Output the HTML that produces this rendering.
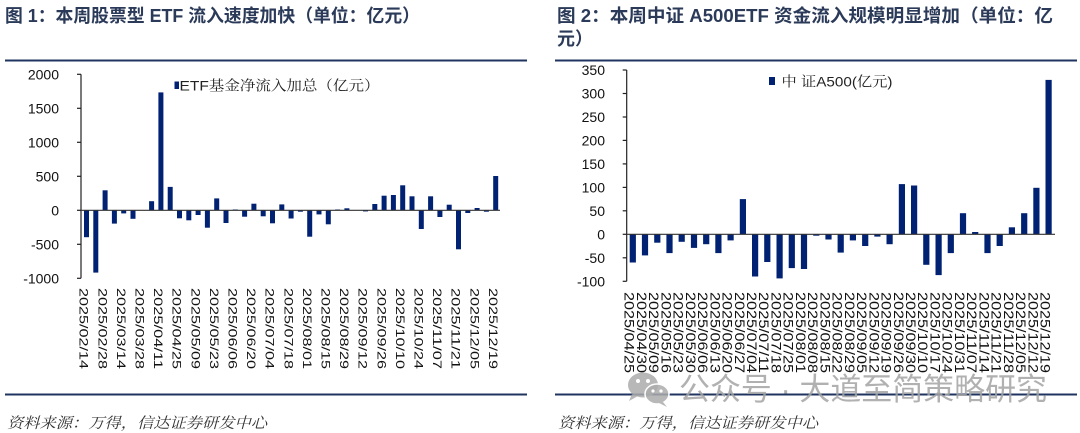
<!DOCTYPE html>
<html><head><meta charset="utf-8">
<style>
html,body{margin:0;padding:0;background:#fff;}
svg{display:block;}
.t{font-family:"Liberation Sans","Noto Sans CJK SC",sans-serif;font-weight:bold;fill:#2a3a58;font-size:18px;}
.tick{font-family:"Liberation Sans",sans-serif;font-size:14px;fill:#111;}
.xl{font-family:"Liberation Sans",sans-serif;fill:#111;}
.lg{font-family:"Liberation Sans","Noto Serif CJK SC",serif;font-size:14px;fill:#222;}
.src{font-family:"Liberation Serif","Noto Serif CJK SC",serif;font-size:15px;font-style:italic;fill:#333;}
.wm{font-family:"Liberation Sans","Noto Sans CJK SC",sans-serif;font-size:31px;fill:#a3a3a3;fill-opacity:0.85;}
</style></head>
<body>
<svg width="1080" height="433" viewBox="0 0 1080 433" xmlns="http://www.w3.org/2000/svg">
<rect width="1080" height="433" fill="#fff"/>

<!-- Titles -->
<text class="t" x="5" y="22" textLength="415" lengthAdjust="spacingAndGlyphs">图 1：本周股票型 ETF 流入速度加快（单位：亿元）</text>
<text class="t" x="557" y="22" textLength="496" lengthAdjust="spacingAndGlyphs">图 2：本周中证 A500ETF 资金流入规模明显增加（单位：亿</text>
<text class="t" x="557" y="45">元）</text>

<!-- Rules -->
<rect x="5" y="59.5" width="522" height="2" fill="#1f3560"/>
<rect x="555" y="59.5" width="522" height="2" fill="#1f3560"/>
<rect x="5" y="393.5" width="522" height="2" fill="#1f3560"/>
<rect x="555" y="393.5" width="522" height="2" fill="#1f3560"/>

<!-- ================= LEFT CHART ================= -->
<g class="tick" text-anchor="end">
<text x="59" y="79.3">2000</text>
<text x="59" y="113.3">1500</text>
<text x="59" y="147.3">1000</text>
<text x="59" y="181.3">500</text>
<text x="59" y="215.3">0</text>
<text x="59" y="249.3">-500</text>
<text x="59" y="283.3">-1000</text>
</g>
<g stroke="#222" stroke-width="1.2">
<line x1="81" y1="74.3" x2="81" y2="278.3"/>
<line x1="77" y1="74.3" x2="81" y2="74.3"/>
<line x1="77" y1="108.3" x2="81" y2="108.3"/>
<line x1="77" y1="142.3" x2="81" y2="142.3"/>
<line x1="77" y1="176.3" x2="81" y2="176.3"/>
<line x1="77" y1="210.3" x2="81" y2="210.3"/>
<line x1="77" y1="244.3" x2="81" y2="244.3"/>
<line x1="77" y1="278.3" x2="81" y2="278.3"/>
</g>
<g fill="#012272">
<rect x="84.0" y="210" width="5" height="27.2"/>
<rect x="93.3" y="210" width="5" height="62.6"/>
<rect x="102.6" y="190.3" width="5" height="19.7"/>
<rect x="111.9" y="210" width="5" height="13.6"/>
<rect x="121.2" y="210" width="5" height="3.4"/>
<rect x="130.5" y="210" width="5" height="8.8"/>
<rect x="149.1" y="201.2" width="5" height="8.8"/>
<rect x="158.4" y="92.4" width="5" height="117.6"/>
<rect x="167.7" y="186.9" width="5" height="23.1"/>
<rect x="177.0" y="210" width="5" height="8.3"/>
<rect x="186.3" y="210" width="5" height="10.3"/>
<rect x="195.6" y="210" width="5" height="5.0"/>
<rect x="204.9" y="210" width="5" height="17.7"/>
<rect x="214.2" y="198.4" width="5" height="11.6"/>
<rect x="223.5" y="210" width="5" height="13.0"/>
<rect x="232.8" y="209.5" width="5" height="0.5"/>
<rect x="242.1" y="210" width="5" height="6.7"/>
<rect x="251.4" y="203.7" width="5" height="6.3"/>
<rect x="260.7" y="210" width="5" height="6.3"/>
<rect x="270.0" y="210" width="5" height="13.3"/>
<rect x="279.3" y="204.4" width="5" height="5.6"/>
<rect x="288.6" y="210" width="5" height="8.5"/>
<rect x="297.9" y="210" width="5" height="1.7"/>
<rect x="307.2" y="210" width="5" height="26.7"/>
<rect x="316.5" y="210" width="5" height="4.4"/>
<rect x="325.8" y="210" width="5" height="14.3"/>
<rect x="335.1" y="209.5" width="5" height="0.5"/>
<rect x="344.4" y="208.3" width="5" height="1.7"/>
<rect x="363.0" y="210" width="5" height="1.4"/>
<rect x="372.3" y="204.0" width="5" height="6.0"/>
<rect x="381.6" y="195.7" width="5" height="14.3"/>
<rect x="390.9" y="195.0" width="5" height="15.0"/>
<rect x="400.2" y="185.3" width="5" height="24.7"/>
<rect x="409.5" y="196.3" width="5" height="13.7"/>
<rect x="418.8" y="210" width="5" height="19.0"/>
<rect x="428.1" y="196.3" width="5" height="13.7"/>
<rect x="437.4" y="210" width="5" height="7.0"/>
<rect x="446.7" y="204.7" width="5" height="5.3"/>
<rect x="456.0" y="210" width="5" height="39.3"/>
<rect x="465.3" y="210" width="5" height="3.0"/>
<rect x="474.6" y="208.0" width="5" height="2.0"/>
<rect x="483.9" y="210" width="5" height="1.7"/>
<rect x="493.2" y="176.0" width="5" height="34.0"/>
</g>
<line x1="81" y1="210.3" x2="500" y2="210.3" stroke="#333" stroke-width="1.2"/>
<!-- left legend -->
<rect x="174.5" y="81.5" width="4.5" height="7.5" fill="#012272"/>
<text class="lg" x="179.5" y="90.5" textLength="200" lengthAdjust="spacingAndGlyphs">ETF基金净流入加总（亿元）</text>
<!-- left x labels -->
<g class="xl" font-size="12">
<text transform="translate(84.0,288) rotate(90)" dy="0.36em" textLength="81" lengthAdjust="spacingAndGlyphs">2025/02/14</text>
<text transform="translate(102.6,288) rotate(90)" dy="0.36em" textLength="81" lengthAdjust="spacingAndGlyphs">2025/02/28</text>
<text transform="translate(121.2,288) rotate(90)" dy="0.36em" textLength="81" lengthAdjust="spacingAndGlyphs">2025/03/14</text>
<text transform="translate(139.8,288) rotate(90)" dy="0.36em" textLength="81" lengthAdjust="spacingAndGlyphs">2025/03/28</text>
<text transform="translate(158.4,288) rotate(90)" dy="0.36em" textLength="81" lengthAdjust="spacingAndGlyphs">2025/04/11</text>
<text transform="translate(177.0,288) rotate(90)" dy="0.36em" textLength="81" lengthAdjust="spacingAndGlyphs">2025/04/25</text>
<text transform="translate(195.6,288) rotate(90)" dy="0.36em" textLength="81" lengthAdjust="spacingAndGlyphs">2025/05/09</text>
<text transform="translate(214.2,288) rotate(90)" dy="0.36em" textLength="81" lengthAdjust="spacingAndGlyphs">2025/05/23</text>
<text transform="translate(232.8,288) rotate(90)" dy="0.36em" textLength="81" lengthAdjust="spacingAndGlyphs">2025/06/06</text>
<text transform="translate(251.4,288) rotate(90)" dy="0.36em" textLength="81" lengthAdjust="spacingAndGlyphs">2025/06/20</text>
<text transform="translate(270.0,288) rotate(90)" dy="0.36em" textLength="81" lengthAdjust="spacingAndGlyphs">2025/07/04</text>
<text transform="translate(288.6,288) rotate(90)" dy="0.36em" textLength="81" lengthAdjust="spacingAndGlyphs">2025/07/18</text>
<text transform="translate(307.2,288) rotate(90)" dy="0.36em" textLength="81" lengthAdjust="spacingAndGlyphs">2025/08/01</text>
<text transform="translate(325.8,288) rotate(90)" dy="0.36em" textLength="81" lengthAdjust="spacingAndGlyphs">2025/08/15</text>
<text transform="translate(344.4,288) rotate(90)" dy="0.36em" textLength="81" lengthAdjust="spacingAndGlyphs">2025/08/29</text>
<text transform="translate(363.0,288) rotate(90)" dy="0.36em" textLength="81" lengthAdjust="spacingAndGlyphs">2025/09/12</text>
<text transform="translate(381.6,288) rotate(90)" dy="0.36em" textLength="81" lengthAdjust="spacingAndGlyphs">2025/09/26</text>
<text transform="translate(400.2,288) rotate(90)" dy="0.36em" textLength="81" lengthAdjust="spacingAndGlyphs">2025/10/10</text>
<text transform="translate(418.8,288) rotate(90)" dy="0.36em" textLength="81" lengthAdjust="spacingAndGlyphs">2025/10/24</text>
<text transform="translate(437.4,288) rotate(90)" dy="0.36em" textLength="81" lengthAdjust="spacingAndGlyphs">2025/11/07</text>
<text transform="translate(456.0,288) rotate(90)" dy="0.36em" textLength="81" lengthAdjust="spacingAndGlyphs">2025/11/21</text>
<text transform="translate(474.6,288) rotate(90)" dy="0.36em" textLength="81" lengthAdjust="spacingAndGlyphs">2025/12/05</text>
<text transform="translate(493.2,288) rotate(90)" dy="0.36em" textLength="81" lengthAdjust="spacingAndGlyphs">2025/12/19</text>
</g>

<!-- ================= RIGHT CHART ================= -->
<g class="tick" text-anchor="end">
<text x="605" y="75">350</text>
<text x="605" y="98.5">300</text>
<text x="605" y="122">250</text>
<text x="605" y="145.4">200</text>
<text x="605" y="168.9">150</text>
<text x="605" y="192.4">100</text>
<text x="605" y="215.8">50</text>
<text x="605" y="239.3">0</text>
<text x="605" y="262.8">-50</text>
<text x="605" y="286.3">-100</text>
</g>
<g stroke="#222" stroke-width="1.2">
<line x1="626.7" y1="70" x2="626.7" y2="281.3"/>
<line x1="622.7" y1="70" x2="626.7" y2="70"/>
<line x1="622.7" y1="93.5" x2="626.7" y2="93.5"/>
<line x1="622.7" y1="117" x2="626.7" y2="117"/>
<line x1="622.7" y1="140.4" x2="626.7" y2="140.4"/>
<line x1="622.7" y1="163.9" x2="626.7" y2="163.9"/>
<line x1="622.7" y1="187.4" x2="626.7" y2="187.4"/>
<line x1="622.7" y1="210.8" x2="626.7" y2="210.8"/>
<line x1="622.7" y1="234.3" x2="626.7" y2="234.3"/>
<line x1="622.7" y1="257.8" x2="626.7" y2="257.8"/>
<line x1="622.7" y1="281.3" x2="626.7" y2="281.3"/>
</g>
<g fill="#012272">
<rect x="629.7" y="234.3" width="6.2" height="28.2"/>
<rect x="641.9" y="234.3" width="6.2" height="21.1"/>
<rect x="654.2" y="234.3" width="6.2" height="8.4"/>
<rect x="666.4" y="234.3" width="6.2" height="18.8"/>
<rect x="678.6" y="234.3" width="6.2" height="7.5"/>
<rect x="690.9" y="234.3" width="6.2" height="13.6"/>
<rect x="703.1" y="234.3" width="6.2" height="9.9"/>
<rect x="715.3" y="234.3" width="6.2" height="18.8"/>
<rect x="727.5" y="234.3" width="6.2" height="6.1"/>
<rect x="739.8" y="199.1" width="6.2" height="35.2"/>
<rect x="752.0" y="234.3" width="6.2" height="42.2"/>
<rect x="764.2" y="234.3" width="6.2" height="27.7"/>
<rect x="776.5" y="234.3" width="6.2" height="44.1"/>
<rect x="788.7" y="234.3" width="6.2" height="33.8"/>
<rect x="800.9" y="234.3" width="6.2" height="34.7"/>
<rect x="813.2" y="234.3" width="6.2" height="1.4"/>
<rect x="825.4" y="234.3" width="6.2" height="5.2"/>
<rect x="837.6" y="234.3" width="6.2" height="18.3"/>
<rect x="849.8" y="234.3" width="6.2" height="6.1"/>
<rect x="862.1" y="234.3" width="6.2" height="11.7"/>
<rect x="874.3" y="234.3" width="6.2" height="2.3"/>
<rect x="886.5" y="234.3" width="6.2" height="9.9"/>
<rect x="898.8" y="184.1" width="6.2" height="50.2"/>
<rect x="911.0" y="185.5" width="6.2" height="48.8"/>
<rect x="923.2" y="234.3" width="6.2" height="30.5"/>
<rect x="935.5" y="234.3" width="6.2" height="40.8"/>
<rect x="947.7" y="234.3" width="6.2" height="18.8"/>
<rect x="959.9" y="213.2" width="6.2" height="21.1"/>
<rect x="972.1" y="232.0" width="6.2" height="2.3"/>
<rect x="984.4" y="234.3" width="6.2" height="18.8"/>
<rect x="996.6" y="234.3" width="6.2" height="11.7"/>
<rect x="1008.8" y="227.3" width="6.2" height="7.0"/>
<rect x="1021.1" y="213.2" width="6.2" height="21.1"/>
<rect x="1033.3" y="187.8" width="6.2" height="46.5"/>
<rect x="1045.5" y="79.9" width="6.2" height="154.4"/>
</g>
<line x1="626.7" y1="234.3" x2="1055" y2="234.3" stroke="#333" stroke-width="1.2"/>
<!-- right legend -->
<rect x="769" y="77" width="6" height="8" fill="#012272"/>
<text class="lg" x="781.5" y="86.5" textLength="111" lengthAdjust="spacingAndGlyphs">中 证A500(亿元)</text>
<!-- right x labels -->
<g class="xl" font-size="14">
<text transform="translate(629.7,292) rotate(90)" dy="0.36em" textLength="81" lengthAdjust="spacingAndGlyphs">2025/04/25</text>
<text transform="translate(641.9,292) rotate(90)" dy="0.36em" textLength="81" lengthAdjust="spacingAndGlyphs">2025/04/30</text>
<text transform="translate(654.2,292) rotate(90)" dy="0.36em" textLength="81" lengthAdjust="spacingAndGlyphs">2025/05/09</text>
<text transform="translate(666.4,292) rotate(90)" dy="0.36em" textLength="81" lengthAdjust="spacingAndGlyphs">2025/05/16</text>
<text transform="translate(678.6,292) rotate(90)" dy="0.36em" textLength="81" lengthAdjust="spacingAndGlyphs">2025/05/23</text>
<text transform="translate(690.9,292) rotate(90)" dy="0.36em" textLength="81" lengthAdjust="spacingAndGlyphs">2025/05/30</text>
<text transform="translate(703.1,292) rotate(90)" dy="0.36em" textLength="81" lengthAdjust="spacingAndGlyphs">2025/06/06</text>
<text transform="translate(715.3,292) rotate(90)" dy="0.36em" textLength="81" lengthAdjust="spacingAndGlyphs">2025/06/13</text>
<text transform="translate(727.5,292) rotate(90)" dy="0.36em" textLength="81" lengthAdjust="spacingAndGlyphs">2025/06/20</text>
<text transform="translate(739.8,292) rotate(90)" dy="0.36em" textLength="81" lengthAdjust="spacingAndGlyphs">2025/06/27</text>
<text transform="translate(752.0,292) rotate(90)" dy="0.36em" textLength="81" lengthAdjust="spacingAndGlyphs">2025/07/04</text>
<text transform="translate(764.2,292) rotate(90)" dy="0.36em" textLength="81" lengthAdjust="spacingAndGlyphs">2025/07/11</text>
<text transform="translate(776.5,292) rotate(90)" dy="0.36em" textLength="81" lengthAdjust="spacingAndGlyphs">2025/07/18</text>
<text transform="translate(788.7,292) rotate(90)" dy="0.36em" textLength="81" lengthAdjust="spacingAndGlyphs">2025/07/25</text>
<text transform="translate(800.9,292) rotate(90)" dy="0.36em" textLength="81" lengthAdjust="spacingAndGlyphs">2025/08/01</text>
<text transform="translate(813.2,292) rotate(90)" dy="0.36em" textLength="81" lengthAdjust="spacingAndGlyphs">2025/08/08</text>
<text transform="translate(825.4,292) rotate(90)" dy="0.36em" textLength="81" lengthAdjust="spacingAndGlyphs">2025/08/15</text>
<text transform="translate(837.6,292) rotate(90)" dy="0.36em" textLength="81" lengthAdjust="spacingAndGlyphs">2025/08/22</text>
<text transform="translate(849.8,292) rotate(90)" dy="0.36em" textLength="81" lengthAdjust="spacingAndGlyphs">2025/08/29</text>
<text transform="translate(862.1,292) rotate(90)" dy="0.36em" textLength="81" lengthAdjust="spacingAndGlyphs">2025/09/05</text>
<text transform="translate(874.3,292) rotate(90)" dy="0.36em" textLength="81" lengthAdjust="spacingAndGlyphs">2025/09/12</text>
<text transform="translate(886.5,292) rotate(90)" dy="0.36em" textLength="81" lengthAdjust="spacingAndGlyphs">2025/09/19</text>
<text transform="translate(898.8,292) rotate(90)" dy="0.36em" textLength="81" lengthAdjust="spacingAndGlyphs">2025/09/26</text>
<text transform="translate(911.0,292) rotate(90)" dy="0.36em" textLength="81" lengthAdjust="spacingAndGlyphs">2025/09/30</text>
<text transform="translate(923.2,292) rotate(90)" dy="0.36em" textLength="81" lengthAdjust="spacingAndGlyphs">2025/10/10</text>
<text transform="translate(935.5,292) rotate(90)" dy="0.36em" textLength="81" lengthAdjust="spacingAndGlyphs">2025/10/17</text>
<text transform="translate(947.7,292) rotate(90)" dy="0.36em" textLength="81" lengthAdjust="spacingAndGlyphs">2025/10/24</text>
<text transform="translate(959.9,292) rotate(90)" dy="0.36em" textLength="81" lengthAdjust="spacingAndGlyphs">2025/10/31</text>
<text transform="translate(972.1,292) rotate(90)" dy="0.36em" textLength="81" lengthAdjust="spacingAndGlyphs">2025/11/07</text>
<text transform="translate(984.4,292) rotate(90)" dy="0.36em" textLength="81" lengthAdjust="spacingAndGlyphs">2025/11/14</text>
<text transform="translate(996.6,292) rotate(90)" dy="0.36em" textLength="81" lengthAdjust="spacingAndGlyphs">2025/11/21</text>
<text transform="translate(1008.8,292) rotate(90)" dy="0.36em" textLength="81" lengthAdjust="spacingAndGlyphs">2025/11/28</text>
<text transform="translate(1021.1,292) rotate(90)" dy="0.36em" textLength="81" lengthAdjust="spacingAndGlyphs">2025/12/05</text>
<text transform="translate(1033.3,292) rotate(90)" dy="0.36em" textLength="81" lengthAdjust="spacingAndGlyphs">2025/12/12</text>
<text transform="translate(1045.5,292) rotate(90)" dy="0.36em" textLength="81" lengthAdjust="spacingAndGlyphs">2025/12/19</text>
</g>

<!-- Sources -->
<text class="src" x="7" y="428" textLength="260" lengthAdjust="spacingAndGlyphs">资料来源：万得，信达证券研发中心</text>
<text class="src" x="558" y="428" textLength="260" lengthAdjust="spacingAndGlyphs">资料来源：万得，信达证券研发中心</text>

<!-- Watermark -->
<g fill="#ababab" fill-opacity="0.85">
<ellipse cx="643" cy="385" rx="15" ry="12.5"/>
<path d="M632 394 L629 401 L638 396 Z"/>
<ellipse cx="657" cy="394" rx="12" ry="10" stroke="#fff" stroke-width="1.5"/>
<path d="M663 402 L667 407 L659 403 Z"/>
</g>
<g fill="#fff">
<circle cx="638" cy="381" r="2"/>
<circle cx="648" cy="381" r="2"/>
<circle cx="653" cy="391" r="1.6"/>
<circle cx="661" cy="391" r="1.6"/>
</g>
<text class="wm" x="679" y="400" textLength="368" lengthAdjust="spacingAndGlyphs">公众号 · 大道至简策略研究</text>
</svg>
</body></html>
